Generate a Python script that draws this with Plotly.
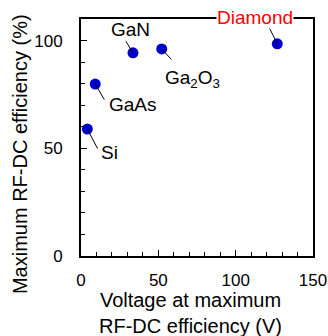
import plotly.graph_objects as go

# Data
materials = ["Si", "GaAs", "GaN", "Ga<sub>2</sub>O<sub>3</sub>", "Diamond"]
voltage = [4.1, 9.2, 33.6, 52.2, 126.9]
efficiency = [58.9, 79.8, 94.3, 96.1, 98.5]
label_colors = ["black", "black", "black", "black", "red"]

# label placement (pixel offsets, styling only)
text_shift = [(22, -23), (38, -20), (-2, 23), (31, -30), (-22, 26)]
leader = [(11, 21), (10, 17), (-8, -13), (11, 12), (-9, -18)]

FONT = "Liberation Sans, Arial, sans-serif"

fig = go.Figure()
fig.add_trace(go.Scatter(
    x=voltage, y=efficiency, mode="markers",
    marker=dict(color="#0000cc", size=11, line=dict(width=0)),
    showlegend=False, hoverinfo="skip"))

annotations = []
for m, vx, vy, c, (sx, sy), (lx, ly) in zip(materials, voltage, efficiency,
                                            label_colors, text_shift, leader):
    annotations.append(dict(x=vx, y=vy, xref="x", yref="y", text="",
                            showarrow=True, arrowhead=0, arrowwidth=1,
                            arrowcolor="black", ax=lx, ay=ly, standoff=0))
    annotations.append(dict(x=vx, y=vy, xref="x", yref="y", text=m,
                            showarrow=False, xshift=sx, yshift=sy,
                            font=dict(size=19, color=c, family=FONT),
                            bgcolor="white" if c == "red" else "rgba(0,0,0,0)",
                            borderpad=0))

annotations.append(dict(x=-0.263, y=0.43, xref="paper", yref="paper",
                        xanchor="center", yanchor="middle",
                        text="Maximum RF-DC efficiency (%)", textangle=-90,
                        showarrow=False, font=dict(size=20, family=FONT, color="black")))
annotations.append(dict(x=0.474, y=-0.24, xref="paper", yref="paper",
                        xanchor="center", yanchor="middle",
                        text="Voltage at maximum<br>RF-DC efficiency (V)",
                        showarrow=False, font=dict(size=20, family=FONT, color="black")))

axis_common = dict(showline=True, linecolor="black", linewidth=2, mirror=True,
                   ticks="inside", ticklen=6, tickwidth=1.5, tickcolor="black",
                   showgrid=False, zeroline=False, automargin=False,
                   tickfont=dict(size=17, family=FONT, color="black"))

fig.update_layout(
    width=328, height=336,
    margin=dict(l=81, r=15, t=19, b=80),
    plot_bgcolor="white", paper_bgcolor="white",
    xaxis=dict(range=[0, 150], tickvals=[0, 50, 100, 150],
               minor=dict(dtick=10, ticks="inside", ticklen=4, tickcolor="black", tickwidth=1),
               ticklabelstandoff=8, **axis_common),
    yaxis=dict(range=[0, 110], tickvals=[0, 50, 100],
               minor=dict(dtick=10, ticks="inside", ticklen=4, tickcolor="black", tickwidth=1),
               ticklabelstandoff=13, **axis_common),
    annotations=annotations,
)

fig.write_html("out.html", config={"displayModeBar": False, "staticPlot": True},
               post_script="document.body.style.margin='0';document.body.style.overflow='hidden';")
